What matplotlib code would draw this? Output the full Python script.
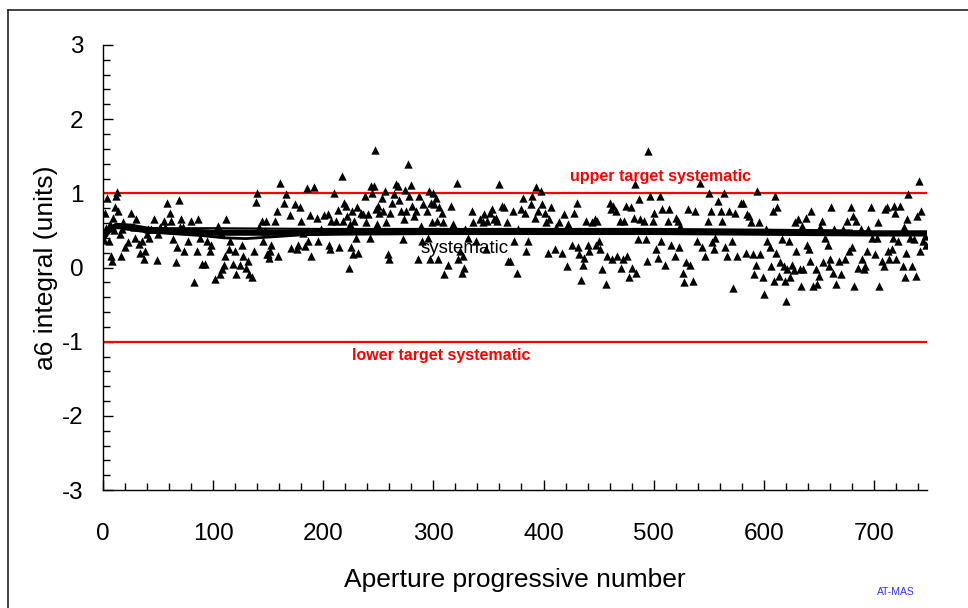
import matplotlib
matplotlib.use("Agg")
import matplotlib.pyplot as plt
from matplotlib.lines import Line2D
from matplotlib.ticker import MultipleLocator

plt.rcParams["font.family"] = ["Liberation Sans", "DejaVu Sans"]
plt.rcParams["axes.unicode_minus"] = False

# aperture number / a6 integral
ap_num = [
    1, 2, 3, 4, 5, 6, 7, 8, 9, 10, 11, 12, 13, 14, 15, 16, 17, 18, 20, 23,
    25, 28, 29, 30, 33, 34, 35, 37, 38, 40, 41, 42, 44, 46, 49, 50, 52, 55, 56, 58,
    61, 62, 64, 66, 67, 69, 70, 71, 73, 74, 77, 80, 83, 85, 86, 88, 90, 93, 94, 97,
    98, 102, 104, 106, 107, 108, 110, 111, 112, 114, 115, 118, 120, 121, 124, 126, 127, 130, 132, 133,
    135, 137, 139, 140, 142, 144, 145, 147, 150,
    148, 149, 151, 152, 153, 156, 158, 159, 161, 164, 166, 170, 171, 174, 176, 177, 179, 180, 182, 183,
    185, 186, 188, 189, 192, 194, 195, 198, 201, 204, 205, 206, 207, 210, 212, 213, 214, 217, 218, 219,
    221, 222, 223, 224, 225, 226, 227, 228, 230, 231, 232, 234, 236, 238, 239, 241, 242, 243, 244, 246,
    247, 248, 249, 250, 251, 253, 254, 256, 257, 259, 260, 261, 262, 264, 266, 268, 269, 271, 272, 273,
    274, 275, 277, 278, 280, 281, 282, 284, 286, 287, 289, 290, 291, 294, 295, 296, 297, 298, 299,
    300, 301, 302, 303, 304, 305, 308, 309, 310, 313, 316, 318, 321, 322, 324, 326, 327, 328, 329, 331,
    335, 336, 339, 342, 345, 346, 348, 349, 351, 353, 355, 357, 358, 360, 362, 364, 367, 368, 370, 372,
    373, 376, 377, 380, 381, 383, 384, 386, 389, 390, 392, 393, 395, 398, 399, 401, 402, 404, 405, 407,
    410, 411, 414, 417, 419, 421, 422, 426, 428, 430, 431, 432, 434, 436, 437, 439, 440, 441, 444, 447,
    448,
    449, 450, 451, 453, 457, 458, 460, 461, 463, 462, 466, 467, 469, 470, 472, 473, 475, 476, 478, 479,
    480, 482, 483, 484, 486, 487, 488, 491, 493, 494, 495, 497, 499, 500, 502, 504, 506, 507, 508, 510,
    513, 514, 516, 519, 520, 522, 523, 524, 527, 528, 529, 531, 533, 536, 538, 539, 542, 544, 547, 549,
    550, 552, 553, 555, 556, 558, 561, 562, 564, 565, 567, 568, 571, 572, 574, 576, 579, 581, 584, 585,
    587, 588, 590, 591, 594, 593, 596, 597, 599, 600,
    602, 603, 606, 607, 608, 609, 610, 611, 612, 614, 615, 617, 618, 619, 620, 621, 623, 624, 626, 627,
    628, 629, 631, 633, 634, 635, 636, 638, 639, 641, 642, 643, 645, 647, 648, 650, 651, 653, 654, 656,
    658, 659, 660, 661, 663, 664, 666, 668, 670, 672, 674, 676, 677, 679, 680, 681, 682, 684, 686, 688,
    689, 691, 692, 694, 695, 697, 698, 701, 703, 704, 705, 707, 709, 710, 712, 713, 714, 716, 717, 718,
    719, 720, 722, 724, 726, 727, 729, 728, 730, 731, 733, 735, 736, 738, 739, 741, 742, 743, 745, 747,
    746,
]
a6_val = [
    0.37, 0.74, 0.53, 0.94, 0.36, 0.58, 0.16, 0.09, 0.67, 0.50, 0.81, 0.96, 1.02, 0.76, 0.45, 0.16, 0.52, 0.61, 0.27, 0.34,
    0.73, 0.54, 0.40, 0.65, 0.32, 0.20, 0.36, 0.11, 0.22, 0.45, 0.52, 0.40, 0.52, 0.65, 0.10, 0.45, 0.55, 0.63, 0.54, 0.87,
    0.74, 0.63, 0.38, 0.08, 0.27, 0.91, 0.54, 0.65, 0.54, 0.22, 0.36, 0.63, -0.20, 0.22, 0.65, 0.40, 0.05, 0.05, 0.36, 0.22,
    0.31, -0.16, 0.56, -0.09, 0.47, -0.02, 0.04, 0.16, 0.65, 0.25, 0.36, 0.05, 0.22, -0.09, 0.04, 0.31, 0.16, 0.00, 0.09, -0.09,
    -0.13, 0.22, 0.88, 1.00, 0.54, 0.63, 0.36, 0.49, 0.18,
    0.63, 0.18, 0.13, 0.22, 0.31, 0.63, 0.76, 0.16, 1.14, 0.87, 0.99, 0.71, 0.26, 0.86, 0.25, 0.31, 0.81, 0.63, 0.47, 0.29,
    1.07, 0.36, 0.71, 0.16, 1.08, 0.67, 0.36, 0.52, 0.71, 0.72, 0.31, 0.25, 0.63, 1.01, 0.63, 0.77, 0.28, 1.24, 0.63, 0.87,
    0.83, 0.70, 0.00, 0.58, 0.27, 0.76, 0.18, 0.63, 0.40, 0.81, 0.20, 0.74, 0.72, 0.96, 0.61, 0.72, 0.40, 1.10, 1.00, 1.10,
    1.58, 0.79, 0.58, 0.83, 0.74, 0.94, 0.76, 1.03, 0.61, 0.18, 0.11, 0.74, 0.87, 0.99, 1.13, 1.10, 0.91, 0.76, 0.38, 0.65,
    1.05, 0.76, 1.40, 0.96, 1.11, 0.83, 0.70, 0.76, 0.11, 0.96, 0.56, 0.36, 0.85, 0.76, 0.40, 1.03, 0.11, 0.87, 0.61,
    1.01, 0.86, 0.94, 0.63, 0.11, 0.81, 0.74, 0.61, -0.09, 0.04, 0.83, 0.58, 1.14, 0.11, 0.22, -0.08, 0.16, 0.00, 0.52, 0.40,
    0.76, 0.61, 0.36, 0.65, 0.61, 0.72, 0.25, 0.63, 0.74, 0.79, 0.66, 0.67, 0.63, 1.13, 0.83, 0.81, 0.61, 0.09, 0.09, 0.76,
    0.36, -0.07, 0.52, 0.79, 0.94, 0.74, 0.22, 0.36, 0.85, 0.96, 0.67, 1.08, 0.76, 1.03, 0.85, 0.74, 0.61, 0.20, 0.65, 0.81,
    0.25, 0.54, 0.61, 0.20, 0.72, 0.02, 0.58, 0.31, 0.74, 0.87, 0.27, 0.18, -0.17, 0.04, 0.13, 0.63, 0.31, 0.22, 0.61, 0.65,
    0.31,
    0.63, 0.36, 0.25, -0.02, -0.22, 0.16, 0.87, 0.79, 0.83, 0.11, 0.76, 0.16, 0.63, 0.00, 0.11, 0.63, 0.83, 0.16, -0.13, 0.81,
    0.00, 0.67, 1.13, -0.07, 0.38, 0.92, 0.65, 0.63, 0.38, 0.09, 1.57, 0.96, 0.63, 0.74, 0.25, 0.13, 0.96, 0.36, 0.79, 0.04,
    0.63, 0.79, 0.31, 0.16, 0.67, 0.63, 0.27, 0.56, -0.07, -0.20, 0.07, 0.79, 0.04, -0.18, 0.76, 0.36, 1.14, 0.27, 0.16, 0.63,
    1.00, 0.76, 0.34, 0.25, 0.40, 0.90, 0.76, 0.63, 1.01, 0.27, 0.16, 0.76, 0.36, -0.27, 0.74, 0.16, 0.87, 0.87, 0.20, 0.72,
    0.70, 0.61, 0.18, -0.09, 1.03, 0.04, 0.61, 0.18, -0.13, -0.36,
    0.52, 0.36, 0.27, 0.02, 0.76, -0.18, 0.96, 0.20, 0.81, -0.11, 0.07, 0.38, 0.02, -0.18, -0.45, -0.02, 0.36, -0.13, 0.04, -0.04,
    0.61, 0.22, 0.65, -0.02, -0.25, 0.56, -0.02, 0.67, 0.31, 0.25, 0.09, 0.76, -0.25, -0.02, -0.22, -0.11, 0.54, 0.63, 0.07, 0.40,
    0.31, 0.02, 0.11, 0.81, -0.07, 0.52, -0.22, 0.09, -0.09, 0.52, 0.11, 0.63, 0.22, 0.81, 0.27, 0.70, -0.25, 0.63, 0.00, 0.52,
    0.11, -0.02, 0.02, 0.22, 0.52, 0.81, 0.40, 0.18, 0.40, 0.61, -0.25, 0.09, 0.02, 0.79, 0.81, 0.22, 0.11, 0.25, 0.40, 0.83,
    0.74, 0.11, 0.36, 0.83, 0.02, 0.54, 0.20, -0.13, 0.65, 0.99, 0.40, 0.02, 0.38, -0.11, 0.70, 1.16, 0.22, 0.76, 0.36, 0.31,
    0.43,
]

# running "systematic" curves, read at a few points along each
sys_x = [0, 5, 12, 25, 40, 60, 80, 100, 130, 160, 200, 300, 400, 500, 600, 700, 748]
sys_y = [0.40, 0.50, 0.56, 0.55, 0.51, 0.49, 0.48, 0.47, 0.47, 0.47, 0.47, 0.48, 0.48, 0.48, 0.47, 0.46, 0.46]
sys_hi_x = [15, 40, 60, 100, 200, 300, 400, 500, 600, 680]
sys_hi_y = [0.56, 0.53, 0.53, 0.53, 0.52, 0.52, 0.52, 0.52, 0.51, 0.50]
sys_lo_x = [20, 40, 60, 90, 110, 130, 150, 180, 220, 300]
sys_lo_y = [0.52, 0.48, 0.46, 0.43, 0.40, 0.39, 0.41, 0.44, 0.46, 0.47]

target = 1.0

fig = plt.figure(figsize=(9.68, 6.08), dpi=100)
ax = fig.add_axes([0.1064, 0.194, 0.851, 0.732])

ax.scatter(ap_num, a6_val, marker="^", s=36, color="black", linewidths=0, zorder=3)
ax.plot(sys_x, sys_y, color="black", lw=4.5, zorder=4)
ax.plot(sys_hi_x, sys_hi_y, color="black", lw=1.5, zorder=4)
ax.plot(sys_lo_x, sys_lo_y, color="black", lw=2.0, zorder=4)

ax.axhline(target, color="#ff0000", lw=1.6, zorder=2)
ax.axhline(-target, color="#ff0000", lw=1.6, zorder=2)

ax.text(506, 1.23, "upper target systematic", color="#ff0000", fontsize=11.5,
        fontweight="bold", ha="center", va="center", zorder=5)
ax.text(307, -1.18, "lower target systematic", color="#ff0000", fontsize=11.5,
        fontweight="bold", ha="center", va="center", zorder=5)
ax.text(328, 0.25, "systematic", color="black", fontsize=13.5,
        ha="center", va="center", zorder=5)

ax.set_xlim(0, 748)
ax.set_ylim(-3, 3)
ax.xaxis.set_major_locator(MultipleLocator(100))
ax.xaxis.set_minor_locator(MultipleLocator(20))
ax.yaxis.set_major_locator(MultipleLocator(1))
ax.yaxis.set_minor_locator(MultipleLocator(0.2))
ax.tick_params(axis="both", which="major", direction="in", length=7, width=1,
               labelsize=17.5, colors="black")
ax.tick_params(axis="both", which="minor", direction="in", length=5, width=1)
ax.tick_params(axis="x", which="major", pad=24)
ax.tick_params(axis="y", which="major", pad=14)

for side in ["top", "right"]:
    ax.spines[side].set_visible(False)
for side in ["left", "bottom"]:
    ax.spines[side].set_linewidth(1.0)

ax.set_xlabel("Aperture progressive number", fontsize=19, labelpad=16)
ax.set_ylabel("a6 integral (units)", fontsize=19, labelpad=3)

fig.text(0.925, 0.026, "AT-MAS", color="#3333ff", fontsize=7.5, ha="center", va="center")

# page frame (top and left edges visible)
fig.add_artist(Line2D([8 / 968, 1.0], [1 - 10 / 608, 1 - 10 / 608],
                      transform=fig.transFigure, color="#222222", lw=1.2))
fig.add_artist(Line2D([8 / 968, 8 / 968], [0.0, 1 - 10 / 608],
                      transform=fig.transFigure, color="#222222", lw=1.2))

fig.savefig("out.png", dpi=100)
